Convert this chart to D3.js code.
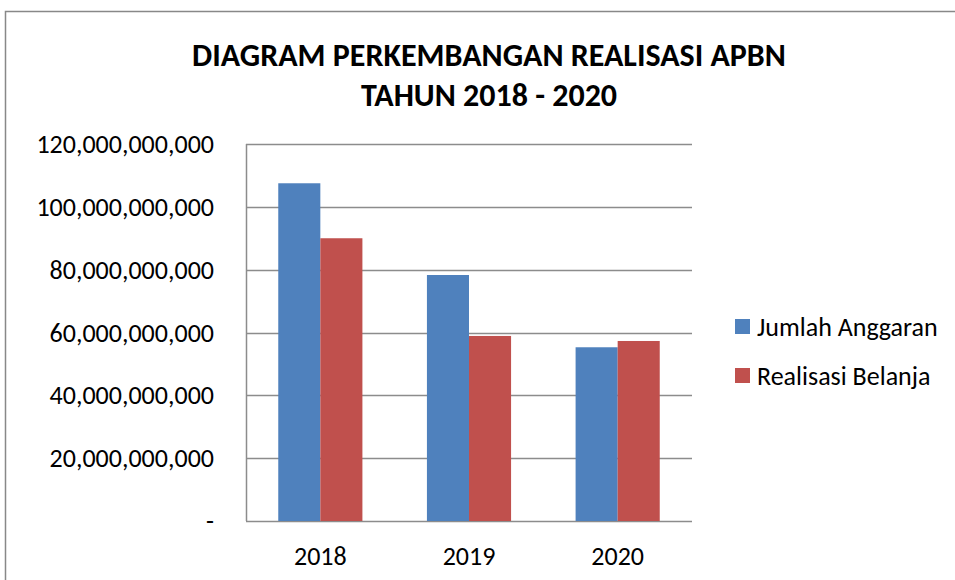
<!DOCTYPE html>
<html>
<head>
<meta charset="utf-8">
<script src="https://cdn.jsdelivr.net/npm/d3@7"></script>
<style>
  body { margin: 0; background: #fff; }
  svg { display: block; }
  text { font-family: Carlito, Lato, "Open Sans", sans-serif; fill: #000; }
</style>
</head>
<body>
<div id="chart"></div>
<script>
// data
const years = ["2018", "2019", "2020"];
const seriesNames = ["Jumlah Anggaran", "Realisasi Belanja"];
const jumlahAnggaran = [107.5e9, 78.3e9, 55.3e9];
const realisasiBelanja = [90.0e9, 58.9e9, 57.3e9];
const yTicks = [0, 20e9, 40e9, 60e9, 80e9, 100e9, 120e9];
const colors = ["#4F81BD", "#C0504D"];

const width = 955, height = 580;
const plot = { left: 246, right: 692, top: 144, bottom: 521 };

const svg = d3.select("#chart").append("svg")
  .attr("width", width)
  .attr("height", height);

// outer chart frame
svg.append("rect")
  .attr("x", 5.5).attr("y", 11.5)
  .attr("width", 970).attr("height", 620)
  .attr("fill", "none")
  .attr("stroke", "#888")
  .attr("stroke-width", 1.5);

// title
const title = svg.append("text")
  .attr("text-anchor", "middle")
  .attr("font-weight", "bold")
  .attr("font-size", 32);
title.append("tspan").attr("x", 489).attr("y", 66).text("DIAGRAM PERKEMBANGAN REALISASI APBN");
title.append("tspan").attr("x", 489).attr("y", 106).text("TAHUN 2018 - 2020");

const x0 = d3.scaleBand()
  .domain(years)
  .range([plot.left, plot.right])
  .paddingInner(0.434)
  .paddingOuter(0.217);

const x1 = d3.scaleBand()
  .domain(seriesNames)
  .range([0, x0.bandwidth()]);

const y = d3.scaleLinear()
  .domain([0, 120e9])
  .range([plot.bottom, plot.top]);

// gridlines
svg.append("g")
  .selectAll("line")
  .data(yTicks)
  .join("line")
  .attr("x1", plot.left)
  .attr("x2", plot.right)
  .attr("y1", d => Math.round(y(d)) + 0.5)
  .attr("y2", d => Math.round(y(d)) + 0.5)
  .attr("stroke", "#8c8c8c")
  .attr("stroke-width", 1.5);

// left axis line
svg.append("line")
  .attr("x1", plot.left + 0.5).attr("x2", plot.left + 0.5)
  .attr("y1", plot.top).attr("y2", plot.bottom)
  .attr("stroke", "#8c8c8c")
  .attr("stroke-width", 1.5);

// y tick labels
const fmt = d3.format(",");
svg.append("g")
  .selectAll("text")
  .data(yTicks)
  .join("text")
  .attr("x", 214)
  .attr("y", d => y(d))
  .attr("dy", "0.35em")
  .attr("text-anchor", "end")
  .attr("font-size", 26)
  .text(d => d === 0 ? "-" : fmt(d));

// bars
const rows = years.map((yr, i) => ({ year: yr, values: [jumlahAnggaran[i], realisasiBelanja[i]] }));

const groups = svg.append("g")
  .selectAll("g")
  .data(rows)
  .join("g")
  .attr("transform", d => `translate(${x0(d.year)},0)`);

groups.selectAll("rect")
  .data(d => d.values.map((v, j) => ({ name: seriesNames[j], value: v, j: j })))
  .join("rect")
  .attr("x", d => x1(d.name))
  .attr("y", d => y(d.value))
  .attr("width", x1.bandwidth())
  .attr("height", d => y(0) - y(d.value))
  .attr("fill", d => colors[d.j]);

// x labels
svg.append("g")
  .selectAll("text")
  .data(years)
  .join("text")
  .attr("x", d => x0(d) + x0.bandwidth() / 2)
  .attr("y", 556)
  .attr("dy", "0.35em")
  .attr("text-anchor", "middle")
  .attr("font-size", 26)
  .text(d => d);

// legend
const legend = svg.append("g")
  .selectAll("g")
  .data(seriesNames)
  .join("g")
  .attr("transform", (d, i) => `translate(735,${319 + i * 49})`);

legend.append("rect")
  .attr("width", 15).attr("height", 15)
  .attr("fill", (d, i) => colors[i]);

legend.append("text")
  .attr("x", 22)
  .attr("y", 8)
  .attr("dy", "0.35em")
  .attr("font-size", 26)
  .text(d => d);
</script>
</body>
</html>
